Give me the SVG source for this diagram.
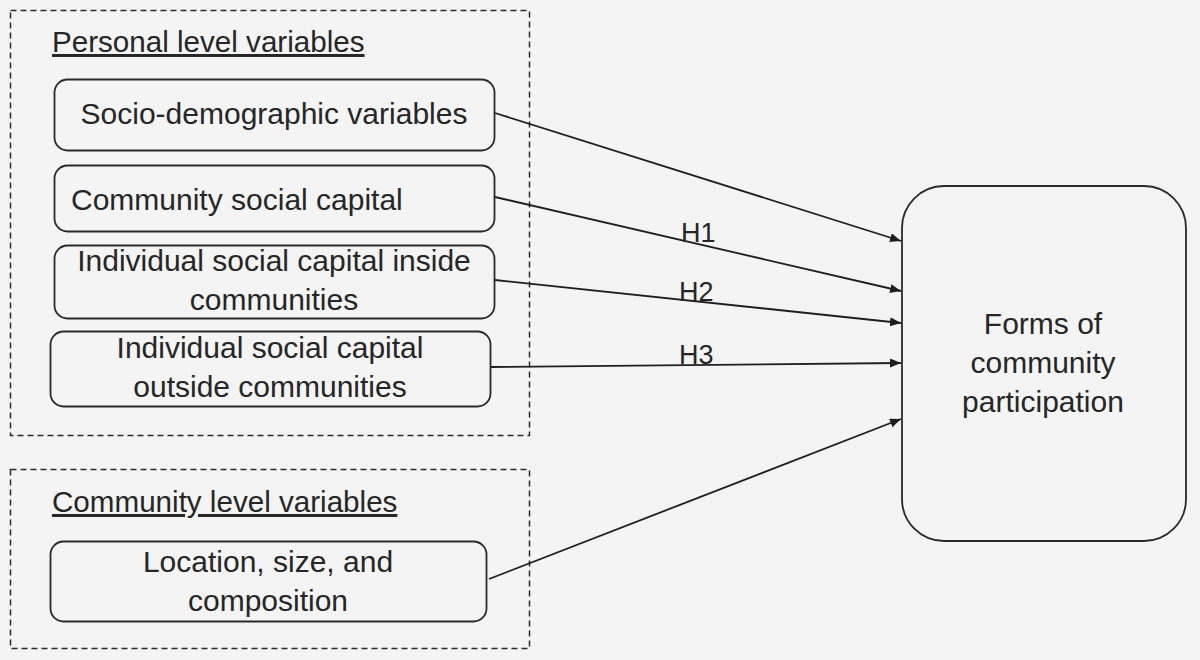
<svg xmlns="http://www.w3.org/2000/svg" width="1200" height="660" viewBox="0 0 1200 660">
<defs>
<style>
.bg{fill:#f4f4f4}
.grp{fill:none;stroke:#2a2a2a;stroke-width:1.5;stroke-dasharray:6 4}
.box{fill:#f4f4f4;stroke:#2a2a2a;stroke-width:1.8}
.t{font-family:"Liberation Sans",Arial,sans-serif;font-size:30px;fill:#262626}
.c{text-anchor:middle}
.h{font-family:"Liberation Sans",Arial,sans-serif;font-size:29.6px;fill:#262626;text-decoration:underline}
.lab{font-family:"Liberation Sans",Arial,sans-serif;font-size:27px;fill:#262626}
.conn{fill:none;stroke:#1e1e1e;stroke-width:1.8;marker-end:url(#arr)}
</style>
<marker id="arr" markerUnits="userSpaceOnUse" markerWidth="12" markerHeight="10" refX="11" refY="4.5" orient="auto">
<path d="M0,0 L11,4.5 L0,9 z" fill="#1e1e1e"/>
</marker>
</defs>
<rect class="bg" x="0" y="0" width="1200" height="660"/>

<g id="personal-level">
<rect class="grp" x="10.5" y="10.5" width="519" height="425"/>
<text class="h" x="52" y="52">Personal level variables</text>
</g>

<g id="community-level">
<rect class="grp" x="10.5" y="469.5" width="519" height="179"/>
<text class="h" x="52" y="512">Community level variables</text>
</g>

<g id="socio-demographic">
<rect class="box" x="54.5" y="79.5" width="440" height="71" rx="13"/>
<text class="t c" x="274" y="124">Socio-demographic variables</text>
</g>

<g id="community-social-capital">
<rect class="box" x="54.5" y="165.5" width="440" height="66" rx="13"/>
<text class="t" x="71" y="210">Community social capital</text>
</g>

<g id="individual-inside">
<rect class="box" x="54.5" y="245.5" width="440" height="73" rx="13"/>
<text class="t c" x="274" y="271">Individual social capital inside</text>
<text class="t c" x="274" y="310">communities</text>
</g>

<g id="individual-outside">
<rect class="box" x="50.5" y="331.5" width="440" height="75" rx="13"/>
<text class="t c" x="270" y="358">Individual social capital</text>
<text class="t c" x="270" y="397">outside communities</text>
</g>

<g id="location">
<rect class="box" x="50.5" y="541.5" width="436" height="80" rx="13"/>
<text class="t c" x="268" y="572">Location, size, and</text>
<text class="t c" x="268" y="611">composition</text>
</g>

<g id="forms-of-participation">
<rect class="box" x="902" y="186" width="284" height="355" rx="42"/>
<text class="t c" x="1043" y="334">Forms of</text>
<text class="t c" x="1043" y="373">community</text>
<text class="t c" x="1043" y="412">participation</text>
</g>

<g id="connectors">
<line class="conn" x1="495" y1="113" x2="901" y2="241"/>
<line class="conn" x1="495" y1="197" x2="901" y2="291"/>
<line class="conn" x1="495" y1="280" x2="901" y2="323"/>
<line class="conn" x1="491" y1="367" x2="901" y2="363"/>
<line class="conn" x1="489" y1="579" x2="901" y2="419"/>
<text class="lab" x="681" y="242">H1</text>
<text class="lab" x="679" y="301">H2</text>
<text class="lab" x="679" y="364">H3</text>
</g>
</svg>
